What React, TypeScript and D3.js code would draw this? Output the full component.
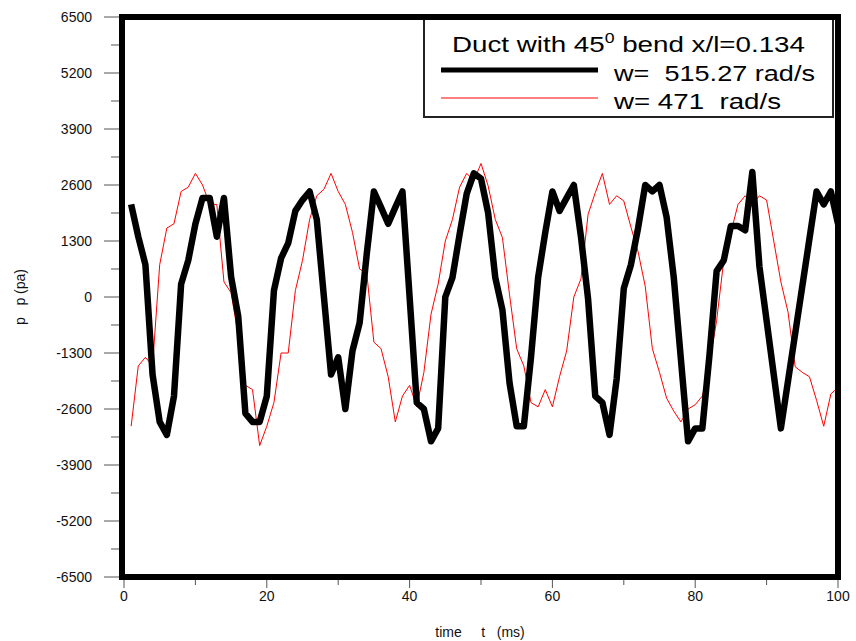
import React from "react";
import * as d3 from "d3";

const times: number[] = Array.from({ length: 100 }, (_, i) => i + 1);

const seriesBlack: number[] = [
  2150, 1400, 750, -1800, -2900, -3200, -2300, 300, 850, 1700,
  2300, 2300, 1400, 2300, 470, -450, -2700, -2900, -2900, -2300,
  150, 900, 1250, 2000, 2250, 2450, 1800, 0, -1800, -1400,
  -2600, -1250, -600, 1000, 2450, 2080, 1700, 2080, 2450, 0,
  -2450, -2600, -3350, -3050, 0, 450, 1450, 2400, 2870, 2750,
  1950, 450, -300, -2000, -3000, -3000, -1400, 450, 1500, 2450,
  2000, 2300, 2600, 1400, -50, -2300, -2450, -3200, -1900, 200,
  750, 1600, 2600, 2450, 2600, 1850, 450, -1450, -3350, -3050,
  -3050, -1350, 600, 850, 1650, 1650, 1550, 2900, 700, -550,
  -1800, -3050, -1950, -850, 250, 1350, 2450, 2150, 2450, 1700,
];

const seriesRed: number[] = [
  -3000, -1600, -1400, -1600, 750, 1600, 1700, 2450, 2550, 2870,
  2600, 2150, 2150, 350, 100, -900, -2050, -2150, -3450, -3000,
  -2450, -1300, -1300, 150, 850, 1800, 2350, 2500, 2870, 2450,
  2150, 1500, 650, 550, -1050, -1200, -1850, -2900, -2300, -2050,
  -2550, -1750, -400, 300, 1300, 1800, 2550, 2870, 2700, 3100,
  2580, 1800, 1380, 50, -1200, -1600, -2450, -2550, -2150, -2550,
  -1850, -1250, 0, 420, 1920, 2420, 2870, 2150, 2350, 2230,
  1620, 1050, 250, -1200, -1750, -2350, -2650, -2900, -2600, -2500,
  -2300, -1550, -550, 850, 1500, 2150, 2350, 2150, 2350, 2250,
  1300, 350, -350, -1620, -1750, -1850, -2400, -3000, -2250, -2100,
];

const yTicks: number[] = [6500, 5200, 3900, 2600, 1300, 0, -1300, -2600, -3900, -5200, -6500];
const yMinorTicks: number[] = [5850, 4550, 3250, 1950, 650, -650, -1950, -3250, -4550, -5850];
const xTicks: number[] = [0, 20, 40, 60, 80, 100];
const xMinorTicks: number[] = [10, 30, 50, 70, 90];

const legendTitle = "Duct with 45";
const legendLabels: string[] = ["w=  515.27 rad/s", "w= 471  rad/s"];

export default function App() {
  const W = 856;
  const H = 641;
  const left = 124;
  const right = 838;
  const top = 17;
  const bottom = 577;
  const font = "'Liberation Sans', Arial, sans-serif";

  const x = d3.scaleLinear().domain([0, 100]).range([left, right]);
  const y = d3.scaleLinear().domain([-6500, 6500]).range([bottom, top]);

  const line = d3
    .line<number>()
    .x((_, i) => x(times[i]))
    .y((d) => y(d));

  const blackPath = line(seriesBlack) || "";
  const redPath = line(seriesRed) || "";

  return (
    <svg
      width={W}
      height={H}
      style={{ position: "absolute", left: 0, top: 0, background: "#fff" }}
      fontFamily={font}
    >
      <defs>
        <clipPath id="plotclip">
          <rect x={left - 2} y={top} width={right - left + 2} height={bottom - top} />
        </clipPath>
      </defs>

      {/* Y ticks */}
      {yTicks.map((t) => (
        <g key={"yt" + t}>
          <line x1={104} x2={120} y1={y(t)} y2={y(t)} stroke="#555" strokeWidth={1} />
          <text x={92} y={y(t) + 5} textAnchor="end" fontSize={14} fill="#111">
            {t}
          </text>
        </g>
      ))}
      {yMinorTicks.map((t) => (
        <line key={"ym" + t} x1={111} x2={120} y1={y(t)} y2={y(t)} stroke="#555" strokeWidth={1} />
      ))}

      {/* X ticks */}
      {xTicks.map((t) => (
        <g key={"xt" + t}>
          <line x1={x(t)} x2={x(t)} y1={580} y2={588} stroke="#555" strokeWidth={1} />
          <text x={x(t)} y={601} textAnchor="middle" fontSize={14} fill="#111">
            {t}
          </text>
        </g>
      ))}
      {xMinorTicks.map((t) => (
        <line key={"xm" + t} x1={x(t)} x2={x(t)} y1={580} y2={585} stroke="#555" strokeWidth={1} />
      ))}

      {/* Axis titles */}
      <text x={480} y={637} textAnchor="middle" fontSize={14} fill="#111" style={{ whiteSpace: "pre" }}>
        {"time     t   (ms)"}
      </text>
      <text
        transform={`translate(25, ${y(0)}) rotate(-90)`}
        textAnchor="middle"
        fontSize={14}
        fill="#111"
        style={{ whiteSpace: "pre" }}
      >
        {"p   p (pa)"}
      </text>

      {/* Data */}
      <g clipPath="url(#plotclip)">
        <path d={redPath} fill="none" stroke="#ff0000" strokeWidth={1} strokeLinejoin="miter" />
        <path d={blackPath} fill="none" stroke="#000" strokeWidth={6.5} strokeLinejoin="round" strokeLinecap="butt" />
      </g>

      {/* Legend */}
      <rect x={424} y={17} width={409} height={100} fill="#fff" stroke="#222" strokeWidth={2} />
      <text
        x={452}
        y={52}
        fontSize={22}
        fill="#000"
        textLength={353}
        lengthAdjust="spacingAndGlyphs"
      >
        {legendTitle}
        <tspan fontSize={14} dy={-9}>0</tspan>
        <tspan dy={9}>{" bend x/l=0.134"}</tspan>
      </text>
      <line x1={441} x2={598} y1={70} y2={70} stroke="#000" strokeWidth={5} />
      <text
        x={614}
        y={81}
        fontSize={22}
        fill="#000"
        textLength={201}
        lengthAdjust="spacingAndGlyphs"
        style={{ whiteSpace: "pre" }}
      >
        {legendLabels[0]}
      </text>
      <line x1={441} x2={598} y1={98} y2={98} stroke="#ff0000" strokeWidth={1} />
      <text
        x={614}
        y={109}
        fontSize={22}
        fill="#000"
        textLength={167}
        lengthAdjust="spacingAndGlyphs"
        style={{ whiteSpace: "pre" }}
      >
        {legendLabels[1]}
      </text>

      {/* Frame */}
      <rect x={122} y={17} width={716} height={560} fill="none" stroke="#000" strokeWidth={6} />
    </svg>
  );
}
